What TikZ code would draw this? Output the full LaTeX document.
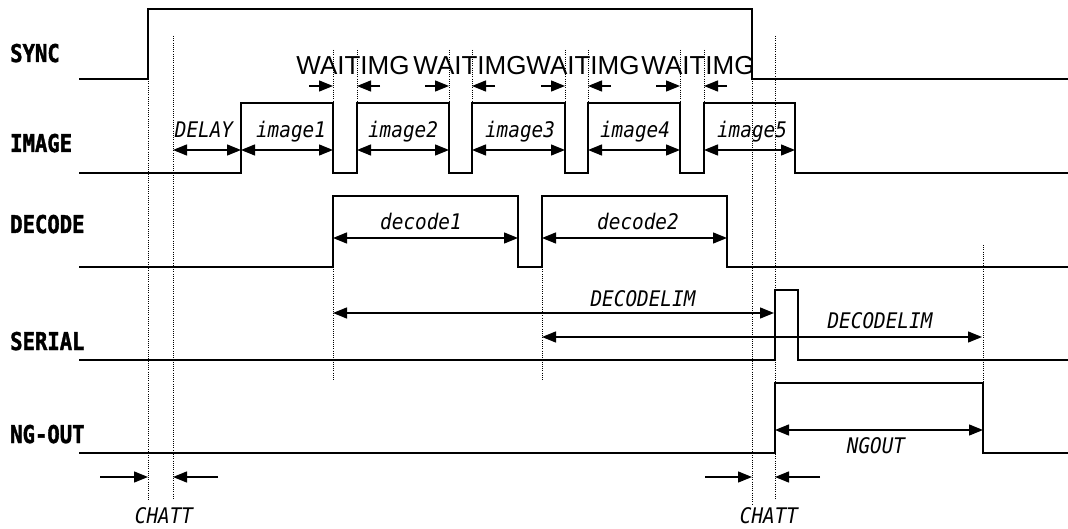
\documentclass[tikz,border=0pt]{standalone}
\usepackage{fontspec}
\usepackage{tikz}
\usetikzlibrary{arrows.meta}
\newfontfamily\sigfont[FakeStretch=0.84,FakeBold=1.6]{DejaVu Sans Mono}
\newfontfamily\timfont[FakeStretch=0.9]{DejaVu Sans Mono}
\newfontfamily\waitfont{Liberation Sans}

\begin{document}
\begin{tikzpicture}[
  x=1pt,y=-1pt,
  sig/.style={line width=1.6pt,line join=miter},
  guide/.style={line width=0.9pt,dash pattern=on 1pt off 1.2pt},
  dim/.style={line width=1.3pt,{Triangle[length=14pt,width=11pt]}-{Triangle[length=14pt,width=11pt]}},
  half/.style={line width=1.3pt,-{Triangle[length=14pt,width=11pt]}},
  signame/.style={anchor=base west,inner sep=0pt,font=\sigfont\bfseries\fontsize{24.5}{26}\selectfont},
  tim/.style={anchor=base,inner sep=0pt,font=\timfont\itshape\fontsize{21.5}{23}\selectfont},
  wait/.style={anchor=base,inner sep=0pt,font=\waitfont\fontsize{26}{28}\selectfont}
]
  \useasboundingbox (0,0) rectangle (1068,529);

  % signal names
  \node[signame] (sync)   at (10,62)  {SYNC};
  \node[signame] (image)  at (10,152) {IMAGE};
  \node[signame] (decode) at (10,233) {DECODE};
  \node[signame] (serial) at (10,350) {SERIAL};
  \node[signame] (ngout)  at (10,443) {NG-OUT};

  % waveforms
  \draw[sig] (79,79) -- (148,79) -- (148,9) -- (752,9) -- (752,79) -- (1068,79);
  \draw[sig] (79,173) -- (241,173) -- (241,103) -- (333,103) -- (333,173) -- (357,173) -- (357,103)
    -- (449,103) -- (449,173) -- (472,173) -- (472,103) -- (565,103) -- (565,173) -- (588,173)
    -- (588,103) -- (680,103) -- (680,173) -- (704,173) -- (704,103) -- (795,103) -- (795,173) -- (1068,173);
  \draw[sig] (79,267) -- (333,267) -- (333,196) -- (518,196) -- (518,267) -- (542,267) -- (542,196)
    -- (727,196) -- (727,267) -- (1068,267);
  \draw[sig] (79,360) -- (775,360) -- (775,290) -- (798,290) -- (798,360) -- (1068,360);
  \draw[sig] (79,453) -- (775,453) -- (775,383) -- (983,383) -- (983,453) -- (1068,453);

  % dotted guides
  \draw[guide] (148,79) -- (148,500);
  \draw[guide] (173,36) -- (173,500);
  \draw[guide] (752,79) -- (752,505);
  \draw[guide] (775,36) -- (775,500);
  \foreach \x in {333,357,449,472,565,588,680,704}
    \draw[guide] (\x,50) -- (\x,103);
  \draw[guide] (333,267) -- (333,380);
  \draw[guide] (542,267) -- (542,380);
  \draw[guide] (983,245) -- (983,383);

  % WAITIMG gaps
  \foreach \a/\b/\c in {333/357/353,449/472/470,565/588/583,680/704/698}{
    \draw[half] (\a-24,86) -- (\a,86);
    \draw[half] (\b+23,86) -- (\b,86);
    \node[wait] at (\c,75) {WAITIMG};
  }

  % image row
  \draw[dim] (173,150) -- (241,150);
  \draw[dim] (241,150) -- (333,150);
  \draw[dim] (357,150) -- (449,150);
  \draw[dim] (472,150) -- (565,150);
  \draw[dim] (588,150) -- (680,150);
  \draw[dim] (704,150) -- (795,150);
  \node[tim] (delay) at (204,138) {DELAY};
  \node[tim] (img1) at (291,138) {image1};
  \node[tim] (img2) at (403,138) {image2};
  \node[tim] (img3) at (520,138) {image3};
  \node[tim] (img4) at (635,138) {image4};
  \node[tim] (img5) at (752,138) {image5};

  % decode row
  \draw[dim] (333,238) -- (518,238);
  \draw[dim] (542,238) -- (727,238);
  \node[tim] (dec1) at (421,230) {decode1};
  \node[tim] (dec2) at (638,230) {decode2};

  % time limits
  \draw[dim] (333,313) -- (774,313);
  \draw[dim] (542,337) -- (982,337);
  \node[tim] (lim1) at (643,306) {DECODELIM};
  \node[tim] (lim2) at (880,328) {DECODELIM};
  \draw[dim] (775,430) -- (983,430);
  \node[tim] (ngt) at (876,453) {NGOUT};

  % chatter
  \draw[half] (100,477) -- (148,477);
  \draw[half] (218,477) -- (173,477);
  \draw[half] (705,477) -- (752,477);
  \draw[half] (820,477) -- (775,477);
  \node[tim] (chatt1) at (164,523) {CHATT};
  \node[tim] (chatt2) at (769,523) {CHATT};
\end{tikzpicture}
\end{document}
